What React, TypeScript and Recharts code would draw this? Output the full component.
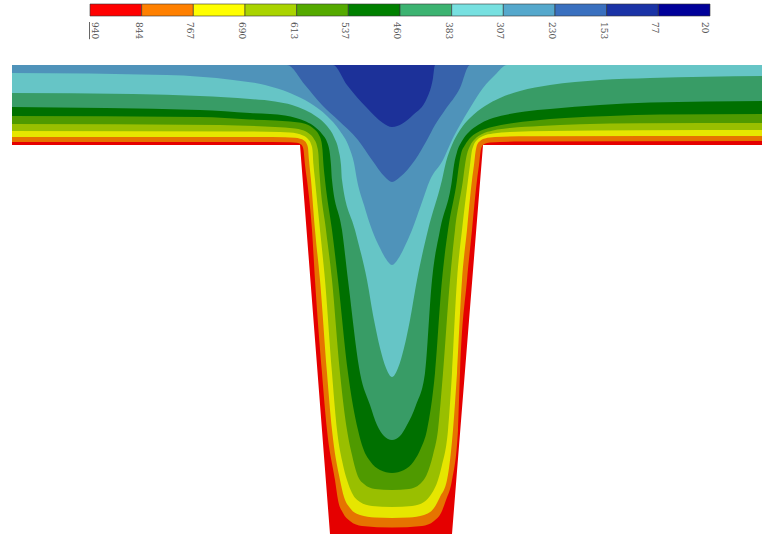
import { Area, Bar, BarChart, ComposedChart, XAxis, YAxis } from 'recharts';

// colour scale (hot -> cold)
const SCALE_LABELS = ['940', '844', '767', '690', '613', '537', '460', '383', '307', '230', '153', '77', '20'];
const SCALE_COLORS = [
  '#ff0000', '#ff8000', '#ffff00', '#aad400', '#55aa00', '#008000',
  '#3cb371', '#77e0e0', '#55a8cc', '#3a70bf', '#1a33a6', '#000099',
];
const BAND_COLORS = [
  '#e50000', '#e67300', '#e6e600', '#99bf00', '#4f9a00', '#007000',
  '#389c66', '#66c5c6', '#4f93ba', '#3762ab', '#1c3199',
];

const TOP = 65;

type Pt = { x: number; y: number };

// outline of the T section (filled with the hottest band)
const OUTLINE: Pt[] = [
  { x: 12, y: 145 }, { x: 300, y: 145 }, { x: 330, y: 534 }, { x: 452, y: 534 }, { x: 483, y: 145 }, { x: 762, y: 145 },
];

// isotherms; each one bounds the colder region above it
const EDGE_844: Pt[] = [
  { x: 12, y: 142 }, { x: 250, y: 142 }, { x: 290, y: 142.2 }, { x: 297, y: 142.8 }, { x: 301, y: 144.5 }, { x: 302.8, y: 147 },
  { x: 303.5, y: 150 }, { x: 305, y: 165 }, { x: 307, y: 180 }, { x: 312, y: 230 }, { x: 315, y: 280 }, { x: 322, y: 373 },
  { x: 327, y: 430 }, { x: 335, y: 480 }, { x: 338, y: 500 }, { x: 343, y: 513 }, { x: 350, y: 521 }, { x: 362, y: 526 },
  { x: 392, y: 527.5 }, { x: 422, y: 526 }, { x: 434, y: 521 }, { x: 441, y: 513 }, { x: 446, y: 500 }, { x: 452, y: 480 },
  { x: 458, y: 430 }, { x: 460, y: 373 }, { x: 467, y: 280 }, { x: 472, y: 230 }, { x: 477, y: 180 }, { x: 479, y: 165 },
  { x: 480.5, y: 152 }, { x: 481.5, y: 147.5 }, { x: 484, y: 144.3 }, { x: 490, y: 142.5 }, { x: 520, y: 141.5 }, { x: 762, y: 141 },
];
const EDGE_767: Pt[] = [
  { x: 12, y: 137 }, { x: 260, y: 137 }, { x: 285, y: 137.3 }, { x: 295, y: 137.8 }, { x: 300, y: 138.8 }, { x: 304, y: 140.5 },
  { x: 306.5, y: 143.5 }, { x: 308, y: 148 }, { x: 309, y: 160 }, { x: 311, y: 180 }, { x: 315, y: 230 }, { x: 320, y: 280 },
  { x: 327, y: 373 }, { x: 332, y: 430 }, { x: 340, y: 480 }, { x: 344, y: 497 }, { x: 350, y: 508 }, { x: 360, y: 515 },
  { x: 375, y: 517.5 }, { x: 392, y: 518 }, { x: 409, y: 517.5 }, { x: 424, y: 515 }, { x: 434, y: 508 }, { x: 440, y: 497 },
  { x: 447, y: 480 }, { x: 453, y: 430 }, { x: 457, y: 373 }, { x: 462, y: 280 }, { x: 467, y: 230 }, { x: 472, y: 180 },
  { x: 474, y: 165 }, { x: 475.5, y: 152 }, { x: 477, y: 145 }, { x: 480, y: 141 }, { x: 485, y: 138.5 }, { x: 495, y: 137 },
  { x: 530, y: 136.3 }, { x: 762, y: 136 },
];
const EDGE_690: Pt[] = [
  { x: 12, y: 131 }, { x: 250, y: 131.5 }, { x: 280, y: 132 }, { x: 290, y: 132.5 }, { x: 297, y: 133.5 }, { x: 303, y: 135.5 },
  { x: 308, y: 139 }, { x: 311, y: 144 }, { x: 312.5, y: 150 }, { x: 313.5, y: 165 }, { x: 315, y: 180 }, { x: 320, y: 230 },
  { x: 325, y: 280 }, { x: 332, y: 373 }, { x: 337, y: 430 }, { x: 343, y: 465 }, { x: 347, y: 480 }, { x: 352, y: 493 },
  { x: 360, y: 502 }, { x: 372, y: 506 }, { x: 392, y: 507 }, { x: 412, y: 506 }, { x: 424, y: 502 }, { x: 432, y: 493 },
  { x: 438, y: 480 }, { x: 442, y: 465 }, { x: 448, y: 430 }, { x: 452, y: 373 }, { x: 457, y: 280 }, { x: 462, y: 230 },
  { x: 468, y: 180 }, { x: 470, y: 165 }, { x: 471.5, y: 153 }, { x: 473.5, y: 145.5 }, { x: 477, y: 140 }, { x: 483, y: 136 },
  { x: 493, y: 133.5 }, { x: 510, y: 132 }, { x: 550, y: 131 }, { x: 640, y: 130.3 }, { x: 762, y: 130 },
];
const EDGE_613: Pt[] = [
  { x: 12, y: 124 }, { x: 220, y: 125 }, { x: 265, y: 126.5 }, { x: 285, y: 127.5 }, { x: 295, y: 128.5 }, { x: 302, y: 130 },
  { x: 309, y: 133.5 }, { x: 314, y: 139 }, { x: 317, y: 146 }, { x: 318.5, y: 155 }, { x: 319, y: 165 }, { x: 320, y: 180 },
  { x: 326, y: 230 }, { x: 332, y: 280 }, { x: 340, y: 373 }, { x: 347, y: 430 }, { x: 352, y: 455 }, { x: 357, y: 474 },
  { x: 364, y: 484 }, { x: 375, y: 489 }, { x: 392, y: 490 }, { x: 409, y: 489 }, { x: 420, y: 484 }, { x: 427, y: 474 },
  { x: 433, y: 455 }, { x: 438, y: 430 }, { x: 443, y: 373 }, { x: 450, y: 280 }, { x: 455, y: 230 }, { x: 463, y: 180 },
  { x: 465, y: 165 }, { x: 467, y: 154 }, { x: 470, y: 146 }, { x: 475, y: 139 }, { x: 482, y: 134 }, { x: 493, y: 130.5 },
  { x: 510, y: 128 }, { x: 540, y: 126 }, { x: 580, y: 124.3 }, { x: 640, y: 123.3 }, { x: 762, y: 123 },
];
const EDGE_537: Pt[] = [
  { x: 12, y: 116 }, { x: 200, y: 117 }, { x: 250, y: 119.5 }, { x: 275, y: 120.5 }, { x: 290, y: 121.5 }, { x: 299, y: 122.5 },
  { x: 307, y: 124.5 }, { x: 314, y: 129 }, { x: 319, y: 135 }, { x: 321.5, y: 142 }, { x: 322.5, y: 150 }, { x: 323.5, y: 165 },
  { x: 325, y: 180 }, { x: 332, y: 230 }, { x: 338, y: 280 }, { x: 348, y: 373 }, { x: 358, y: 430 }, { x: 363, y: 448 },
  { x: 370, y: 461 }, { x: 380, y: 470 }, { x: 392, y: 473 }, { x: 404, y: 470 }, { x: 414, y: 461 }, { x: 421, y: 448 },
  { x: 427, y: 430 }, { x: 435, y: 373 }, { x: 442, y: 280 }, { x: 448, y: 230 }, { x: 457, y: 180 }, { x: 459, y: 165 },
  { x: 461, y: 154 }, { x: 465, y: 145 }, { x: 471, y: 137 }, { x: 480, y: 131 }, { x: 492, y: 127 }, { x: 510, y: 123.5 },
  { x: 535, y: 120.5 }, { x: 565, y: 118 }, { x: 610, y: 116 }, { x: 660, y: 114.5 }, { x: 762, y: 114 },
];
const EDGE_460: Pt[] = [
  { x: 12, y: 107 }, { x: 200, y: 110 }, { x: 250, y: 113 }, { x: 270, y: 114 }, { x: 285, y: 115.5 }, { x: 296, y: 118 },
  { x: 306, y: 121.5 }, { x: 315, y: 127 }, { x: 322, y: 134 }, { x: 327, y: 142 }, { x: 329.5, y: 151 }, { x: 331, y: 165 },
  { x: 332, y: 180 }, { x: 342, y: 230 }, { x: 348, y: 280 }, { x: 360, y: 373 }, { x: 370, y: 405 }, { x: 377, y: 425 },
  { x: 384, y: 436 }, { x: 392, y: 440 }, { x: 400, y: 436 }, { x: 407, y: 425 }, { x: 416, y: 405 }, { x: 425, y: 373 },
  { x: 432, y: 280 }, { x: 440, y: 230 }, { x: 452, y: 180 }, { x: 454, y: 165 }, { x: 457, y: 152 }, { x: 462, y: 141 },
  { x: 469, y: 132 }, { x: 478, y: 125 }, { x: 490, y: 119 }, { x: 505, y: 115 }, { x: 525, y: 111.5 }, { x: 550, y: 109 },
  { x: 600, y: 105 }, { x: 650, y: 102.5 }, { x: 762, y: 101 },
];
const EDGE_383: Pt[] = [
  { x: 12, y: 93 }, { x: 133, y: 94 }, { x: 200, y: 96 }, { x: 250, y: 99 }, { x: 275, y: 101.5 }, { x: 292, y: 105 },
  { x: 305, y: 110 }, { x: 317, y: 117 }, { x: 327, y: 126 }, { x: 334, y: 137 }, { x: 338.5, y: 150 }, { x: 341, y: 165 },
  { x: 342, y: 180 }, { x: 355, y: 230 }, { x: 367, y: 280 }, { x: 374, y: 320 }, { x: 380, y: 348 }, { x: 386, y: 368 },
  { x: 392, y: 377 }, { x: 398, y: 368 }, { x: 404, y: 348 }, { x: 410, y: 320 }, { x: 417, y: 280 }, { x: 428, y: 230 },
  { x: 442, y: 180 }, { x: 446, y: 162 }, { x: 452, y: 145 }, { x: 460, y: 130 }, { x: 470, y: 118 }, { x: 485, y: 106 },
  { x: 500, y: 98 }, { x: 520, y: 91 }, { x: 550, y: 85 }, { x: 600, y: 80 }, { x: 650, y: 78 }, { x: 762, y: 76 },
];
const EDGE_307: Pt[] = [
  { x: 12, y: 73 }, { x: 167, y: 75 }, { x: 233, y: 80 }, { x: 265, y: 85 }, { x: 290, y: 93 }, { x: 310, y: 103 },
  { x: 327, y: 116 }, { x: 340, y: 131 }, { x: 349, y: 147 }, { x: 354, y: 163 }, { x: 357, y: 180 }, { x: 364, y: 205 },
  { x: 372, y: 230 }, { x: 380, y: 248 }, { x: 386, y: 259 }, { x: 392, y: 265 }, { x: 398, y: 259 }, { x: 404, y: 248 },
  { x: 412, y: 230 }, { x: 421, y: 205 }, { x: 430, y: 180 }, { x: 443, y: 160 }, { x: 452, y: 140 }, { x: 460, y: 125 },
  { x: 470, y: 108 }, { x: 483, y: 88 }, { x: 495, y: 75 }, { x: 507, y: 65 }, { x: 762, y: 65 },
];
const EDGE_230: Pt[] = [
  { x: 12, y: 65 }, { x: 287, y: 65 }, { x: 305, y: 85 }, { x: 322, y: 105 }, { x: 338, y: 120 }, { x: 358, y: 140 },
  { x: 372, y: 160 }, { x: 385, y: 177 }, { x: 392, y: 182 }, { x: 400, y: 177 }, { x: 415, y: 160 }, { x: 427, y: 140 },
  { x: 435, y: 125 }, { x: 445, y: 110 }, { x: 460, y: 88 }, { x: 470, y: 65 }, { x: 762, y: 65 },
];
const EDGE_153: Pt[] = [
  { x: 12, y: 65 }, { x: 333, y: 65 }, { x: 347, y: 85 }, { x: 367, y: 108 }, { x: 383, y: 123 }, { x: 392, y: 127 },
  { x: 413, y: 115 }, { x: 427, y: 98 }, { x: 433, y: 78 }, { x: 435, y: 65 }, { x: 762, y: 65 },
];

const LAYERS = [OUTLINE, EDGE_844, EDGE_767, EDGE_690, EDGE_613, EDGE_537, EDGE_460, EDGE_383, EDGE_307, EDGE_230, EDGE_153];

const scaleRow = [Object.fromEntries(SCALE_COLORS.map((_, i) => [`s${i}`, 1]).concat([['name', 'scale']]))];

function ScaleTick(props: any) {
  const { x, y, payload, index } = props;
  const dx = index === 0 ? 5 : index === SCALE_LABELS.length - 1 ? -5 : -3;
  return (
    <text
      transform={`translate(${x + dx},${y - 2}) rotate(90)`}
      textAnchor="start"
      dominantBaseline="central"
      fontSize={9}
      fontFamily="DejaVu Serif"
      fill="#555"
      textDecoration={index === 0 ? 'underline' : undefined}
    >
      {SCALE_LABELS[payload.value]}
    </text>
  );
}

export default function App() {
  return (
    <div style={{ position: 'absolute', left: 0, top: 0, width: 762, height: 534, background: '#fff' }}>
      <div style={{ position: 'absolute', left: 0, top: 0 }}>
        <ComposedChart width={762} height={534} margin={{ top: 0, right: 0, bottom: 0, left: 0 }}>
          <XAxis type="number" dataKey="x" domain={[0, 762]} allowDataOverflow hide />
          <YAxis type="number" domain={[0, 534]} reversed allowDataOverflow hide />
          {LAYERS.map((pts, i) => (
            <Area
              key={i}
              data={pts}
              dataKey={(d: Pt) => [TOP, d.y]}
              type={i === 0 ? 'linear' : 'monotone'}
              fill={BAND_COLORS[i]}
              fillOpacity={1}
              stroke="none"
              dot={false}
              activeDot={false}
              isAnimationActive={false}
            />
          ))}
        </ComposedChart>
      </div>
      <div style={{ position: 'absolute', left: 0, top: 0 }}>
        <BarChart
          width={762}
          height={50}
          layout="vertical"
          data={scaleRow}
          margin={{ top: 4, right: 52, bottom: 0, left: 90 }}
          barCategoryGap={0}
        >
          <XAxis
            type="number"
            domain={[0, 12]}
            ticks={SCALE_LABELS.map((_, i) => i)}
            interval={0}
            axisLine={false}
            tickLine={false}
            height={34}
            tick={<ScaleTick />}
          />
          <YAxis type="category" dataKey="name" hide />
          {SCALE_COLORS.map((c, i) => (
            <Bar key={i} dataKey={`s${i}`} stackId="a" fill={c} stroke="#333" strokeWidth={0.6} isAnimationActive={false} />
          ))}
        </BarChart>
      </div>
    </div>
  );
}
